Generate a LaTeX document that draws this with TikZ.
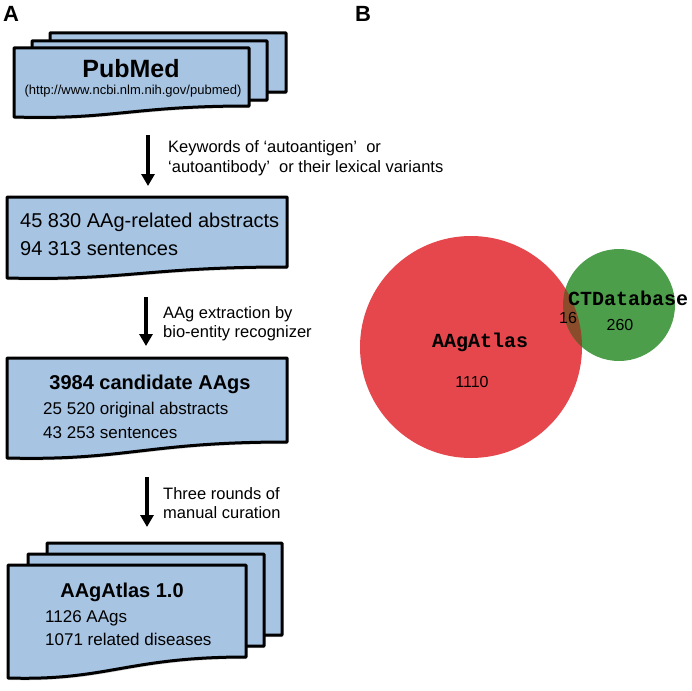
\documentclass[tikz,border=0pt]{standalone}
\usepackage{fontspec}
\setmainfont{Liberation Sans}
\newfontfamily\vennfont{Liberation Mono}
\usetikzlibrary{arrows.meta,shadows}
\definecolor{pageblue}{RGB}{167,196,227}
\definecolor{atlasred}{RGB}{229,71,76}
\definecolor{ctgreen}{RGB}{76,158,74}
\definecolor{overlapbrown}{RGB}{139,76,44}
% one sheet of paper with a wavy lower edge: left, top, right, bottom left, bottom right
\newcommand{\docpage}[5]{%
  \draw[page] (#1,#2) -- (#3,#2) -- (#3,#5) .. controls ({#1+0.5*(#3-#1)},{#5}) and ({#1+0.42*(#3-#1)},{#4+3}) .. (#1,#4) -- cycle;}

\begin{document}
\begin{tikzpicture}[x=1pt, y=-1pt,
    page/.style={draw=black, line width=3pt, line join=round, fill=pageblue,
      drop shadow={shadow xshift=1pt, shadow yshift=-2pt, opacity=.35}},
    flowarrow/.style={line width=4pt, -{Triangle[width=13pt,length=12pt]}},
    panel/.style={inner sep=0pt, font=\fontsize{22}{24}\selectfont\bfseries},
    boxhead/.style={inner sep=0pt, font=\fontsize{20}{22}\selectfont\bfseries},
    boxline/.style={inner sep=0pt, font=\fontsize{17}{20}\selectfont},
    steplabel/.style={inner sep=0pt, anchor=base west, font=\fontsize{16.5}{20}\selectfont},
    vennname/.style={inner sep=0pt, anchor=base, font=\fontsize{20}{22}\selectfont\vennfont\bfseries},
    venncount/.style={inner sep=0pt, anchor=base, font=\fontsize{16}{19}\selectfont}]
    \useasboundingbox (0,0) rectangle (692,690);
    \node[panel, anchor=base west] (panelA) at (3,22) {A};
    \node[panel, anchor=base west] (panelB) at (355,22) {B};
    %% PubMed stack
    \docpage{50}{33}{286}{102}{92}
    \docpage{32}{41}{267}{110}{100}
    \docpage{14}{48}{249}{117}{106}
    \node[inner sep=0pt, anchor=base, font=\fontsize{25}{28}\selectfont\bfseries] (pubmed) at (131,78) {PubMed};
    \node[inner sep=0pt, anchor=base, font=\fontsize{13}{15}\selectfont] (pubmedurl) at (133,95) {(http://www.ncbi.nlm.nih.gov/pubmed)};
    %% step 1
    \coordinate (a1s) at (148,135);
    \coordinate (a1e) at (148,186);
    \draw[flowarrow] (a1s) -- (a1e);
    \node[steplabel] (kw1) at (168,152) {Keywords of `autoantigen'~ or};
    \node[steplabel] (kw2) at (168,172) {`autoantibody'~ or their lexical variants};
    %% abstracts
    \docpage{7}{197}{287}{278}{267}
    \node[inner sep=0pt, anchor=base west, font=\fontsize{20}{22}\selectfont] (abs1) at (20,227) {45 830 AAg-related abstracts};
    \node[inner sep=0pt, anchor=base west, font=\fontsize{20}{22}\selectfont] (abs2) at (20,255) {94 313 sentences};
    %% step 2
    \coordinate (a2s) at (146,297);
    \coordinate (a2e) at (146,346);
    \draw[flowarrow] (a2s) -- (a2e);
    \node[steplabel] (ext1) at (163,318) {AAg extraction by};
    \node[steplabel] (ext2) at (163,337) {bio-entity recognizer};
    %% candidates
    \docpage{7}{358}{287}{458}{442}
    \node[boxhead, anchor=base] (cand) at (150,389) {3984 candidate AAgs};
    \node[boxline, anchor=base west] (orig) at (43,414) {25 520 original abstracts};
    \node[boxline, anchor=base west] (sent) at (43,438) {43 253 sentences};
    %% step 3
    \coordinate (a3s) at (147,477);
    \coordinate (a3e) at (147,527);
    \draw[flowarrow] (a3s) -- (a3e);
    \node[steplabel] (cur1) at (163,499) {Three rounds of};
    \node[steplabel] (cur2) at (163,518) {manual curation};
    %% AAgAtlas stack
    \docpage{47}{543}{282}{656}{635}
    \docpage{28}{554}{264}{667}{646}
    \docpage{8}{565}{246}{678}{657}
    \node[boxhead, anchor=base] (atlas) at (122,597) {AAgAtlas 1.0};
    \node[boxline, anchor=base west] (aags) at (45,622) {1126 AAgs};
    \node[boxline, anchor=base west] (dis) at (45,645) {1071 related diseases};
    %% Venn
    \fill[atlasred] (471,347) circle[radius=111pt];
    \fill[ctgreen] (619,305) circle[radius=56pt];
    \begin{scope}
      \clip (471,347) circle[radius=111pt];
      \fill[overlapbrown] (619,305) circle[radius=56pt];
    \end{scope}
    \node[vennname] (atlasname) at (480,347) {AAgAtlas};
    \node[vennname] (ctname) at (628,305) {CTDatabase};
    \node[venncount] (n1110) at (472,387) {1110};
    \node[venncount] (n260) at (620,330) {260};
    \node[venncount] (n16) at (568,323) {16};
\end{tikzpicture}
\end{document}
